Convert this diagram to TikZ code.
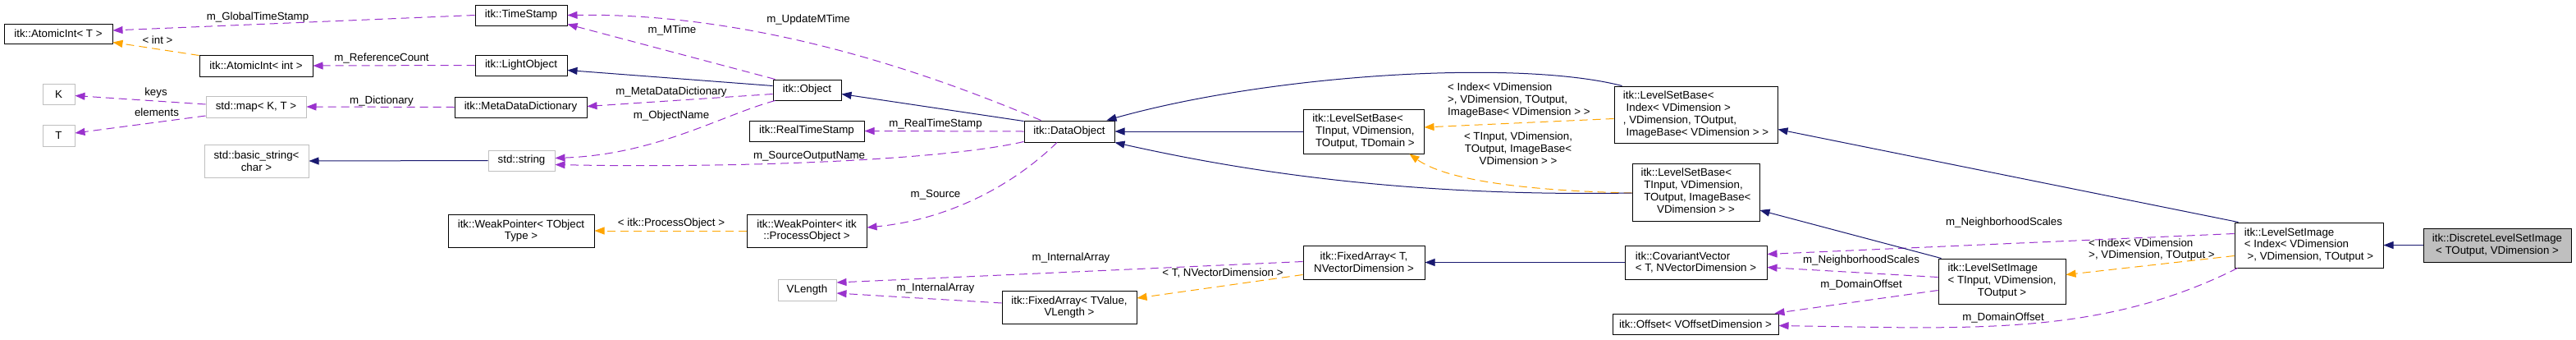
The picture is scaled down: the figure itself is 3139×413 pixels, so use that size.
\documentclass[tikz,border=0pt]{standalone}
\usepackage{fontspec}
\setmainfont{Liberation Sans}
\usetikzlibrary{arrows.meta,calc}
\definecolor{cMem}{HTML}{9A32CD}
\definecolor{cTpl}{HTML}{FFA500}
\definecolor{cInh}{HTML}{191970}
\definecolor{cGray}{HTML}{BFBFBF}
\newcommand{\lastc}[2]{\begin{tabular}{@{}l@{}}#1\\\multicolumn{1}{@{}c@{}}{#2}\end{tabular}}
\begin{document}
\begin{tikzpicture}[x=1pt,y=-1pt,
  every node/.style={font=\fontsize{13.3}{14.8}\selectfont, inner sep=0pt},
  box/.style 2 args={draw=black, line width=1pt, fill=white, minimum width=#1pt, minimum height=#2pt},
  gbox/.style 2 args={draw=cGray, line width=1pt, fill=white, minimum width=#1pt, minimum height=#2pt},
  memb/.style={draw=cMem, line width=1pt, dash pattern=on 10pt off 6pt, -{Triangle[length=12pt,width=9pt,fill=cMem]}},
  tmpl/.style={draw=cTpl, line width=1pt, dash pattern=on 10pt off 6pt, -{Triangle[length=12pt,width=9pt,fill=cTpl]}},
  inher/.style={draw=cInh, line width=1pt, -{Triangle[length=12pt,width=9pt,fill=cInh]}}]
\fill[white] (0,0) rectangle (3139,413);
\useasboundingbox (0,0) rectangle (3139,413);
% nodes
\node[box={132}{24}] (ait) at (71,41) {itk::AtomicInt< T >};
\node[box={138}{26}] (aiint) at (312,80) {itk::AtomicInt< int >};
\node[gbox={39}{25}] (K) at (71.5,114.5) {K};
\node[gbox={39}{26}] (T) at (71.5,165) {T};
\node[gbox={122}{26}] (map) at (312,130) {std::map< K, T >};
\node[gbox={127}{40}, align=center] (bstr) at (312.5,196) {std::basic\_string<\\char >};
\node[box={112}{25}] (ts) at (635,18.5) {itk::TimeStamp};
\node[box={112}{25}] (lo) at (635,79.5) {itk::LightObject};
\node[box={161}{25}] (mdd) at (634.5,130.5) {itk::MetaDataDictionary};
\node[gbox={81}{25}] (str) at (635.5,195.5) {std::string};
\node[box={178}{40}, align=center] (wpT) at (635,281) {itk::WeakPointer< TObject\\Type >};
\node[box={83}{25}] (obj) at (983.5,109.5) {itk::Object};
\node[box={140}{25}] (rts) at (983,159.5) {itk::RealTimeStamp};
\node[box={146}{40}, align=center] (wpPO) at (983,281) {itk::WeakPointer< itk\\::ProcessObject >};
\node[gbox={71}{26}] (vlen) at (983.5,353) {VLength};
\node[box={110}{26}] (dobj) at (1303,160) {itk::DataObject};
\node[box={164}{40}, align=center] (faTV) at (1303,374) {itk::FixedArray< TValue,\\VLength >};
\node[box={148}{41}, align=center] (faT) at (1662,319.5) {itk::FixedArray< T,\\NVectorDimension >};
\node[box={147}{54}, align=left] (lsbTD) at (1661.5,160) {itk::LevelSetBase<\\\ TInput, VDimension,\\\ TOutput, TDomain >};
\node[box={199}{69}, align=left] (lsbIdx) at (2066.5,139.5) {itk::LevelSetBase<\\\ Index< VDimension >\\, VDimension, TOutput,\\\ ImageBase< VDimension > >};
\node[box={155}{70}] (lsbTI) at (2066.5,234) {\lastc{itk::LevelSetBase<\\\ TInput, VDimension,\\\ TOutput, ImageBase<}{VDimension > >}};
\node[box={173}{41}, align=left] (cov) at (2066.5,319.5) {itk::CovariantVector\\< T, NVectorDimension >};
\node[box={202}{25}] (off) at (2066,394.5) {itk::Offset< VOffsetDimension >};
\node[box={155}{55}] (lsiTI) at (2439.5,342.5) {\lastc{itk::LevelSetImage\\< TInput, VDimension,}{TOutput >}};
\node[box={181}{55}, align=left] (lsiIdx) at (2813.5,298.5) {itk::LevelSetImage\\< Index< VDimension\\\ >, VDimension, TOutput >};
\node[box={180}{41}, fill=cGray, align=center] (dlsi) at (3043,298.5) {itk::DiscreteLevelSetImage\\< TOutput, VDimension >};
% labels
\node (l1) at (314,21) {m\_GlobalTimeStamp};
\node (l2) at (465,71) {m\_ReferenceCount};
\node (l3) at (190,113) {keys};
\node (l4) at (191,137) {elements};
\node (l5) at (465,123) {m\_Dictionary};
\node (l6) at (819,37) {m\_MTime};
\node (l7) at (985,24) {m\_UpdateMTime};
\node (l8) at (818,112) {m\_MetaDataDictionary};
\node (l9) at (818,141) {m\_ObjectName};
\node (l10) at (1140,151) {m\_RealTimeStamp};
\node (l11) at (986,190) {m\_SourceOutputName};
\node (l12) at (1140,237) {m\_Source};
\node (l13) at (1305,314) {m\_InternalArray};
\node (l14) at (1140,351) {m\_InternalArray};
\node (l15) at (2442,271) {m\_NeighborhoodScales};
\node (l16) at (2268,317) {m\_NeighborhoodScales};
\node (l17) at (2268,347) {m\_DomainOffset};
\node (l18) at (2441,387) {m\_DomainOffset};
\node (l19) at (192,49) {< int >};
\node (l20) at (818,272) {< itk::ProcessObject >};
\node (l21) at (1490,333) {< T, NVectorDimension >};
\node[anchor=west, align=left] (l22) at (1764,122) {< Index< VDimension\\>, VDimension, TOutput,\\ImageBase< VDimension > >};
\node[align=center] (l23) at (1850,181) {< TInput, VDimension,\\TOutput, ImageBase<\\VDimension > >};
\node[anchor=west, align=left] (l24) at (2545,304) {< Index< VDimension\\>, VDimension, TOutput >};
% member edges
\draw[memb] (ts.west) -- ($(ait.east)+(0,-4)$);
\draw[memb] (lo.west) -- (aiint.east);
\draw[memb] ($(map.west)+(0,-3)$) -- ($(K.east)+(0,2)$);
\draw[memb] ($(map.west)+(0,11)$) -- ($(T.east)+(0,-3)$);
\draw[memb] (mdd.west) -- (map.east);
\draw[memb] ($(obj.north west)+(3,0)$) -- ($(ts.south east)+(0,-2)$);
\draw[memb] ($(dobj.north west)+(21,0)$) .. controls (1180,110) and (950,15) .. (ts.east);
\draw[memb] ($(obj.west)+(0,5)$) -- ($(mdd.east)+(0,-1)$);
\draw[memb] ($(obj.south west)+(3,0)$) .. controls (880,140) and (800,188) .. ($(str.east)+(0,-3)$);
\draw[memb] (dobj.west) -- (rts.east);
\draw[memb] ($(dobj.south west)+(0,-1)$) .. controls (1150,195) and (900,205) .. ($(str.east)+(0,5)$);
\draw[memb] ($(dobj.south)+(-15,0)$) .. controls (1230,230) and (1150,268) .. ($(wpPO.east)+(0,-4)$);
\draw[memb] ($(faT.west)+(0,-1)$) -- ($(vlen.east)+(0,-9)$);
\draw[memb] ($(faTV.west)+(0,-5)$) -- ($(vlen.east)+(0,4)$);
\draw[memb] ($(lsiIdx.west)+(0,-14)$) -- ($(cov.east)+(0,-10)$);
\draw[memb] ($(lsiTI.west)+(0,-5)$) -- ($(cov.east)+(0,6)$);
\draw[memb] ($(lsiTI.west)+(0,11)$) -- ($(off.north east)+(-5,0)$);
\draw[memb] ($(lsiIdx.south west)+(4,0)$) .. controls (2560,410) and (2400,400) .. ($(off.east)+(0,2)$);
% template edges
\draw[tmpl] ($(aiint.north west)+(0,1)$) -- ($(ait.south east)+(0,-2)$);
\draw[tmpl] (wpPO.west) -- (wpT.east);
\draw[tmpl] ($(faT.west)+(0,15)$) -- ($(faTV.east)+(0,-11)$);
\draw[tmpl] ($(lsbIdx.west)+(0,5)$) -- ($(lsbTD.east)+(0,-5)$);
\draw[tmpl] ($(lsbTI.west)+(0,1)$) .. controls (1850,232) and (1760,218) .. ($(lsbTD.south east)+(-18,0)$);
\draw[tmpl] ($(lsiIdx.west)+(0,13)$) -- ($(lsiTI.east)+(0,-8)$);
% inheritance edges
\draw[inher] ($(obj.west)+(0,-5)$) -- ($(lo.east)+(0,6)$);
\draw[inher] (str.west) -- (bstr.east);
\draw[inher] ($(dobj.north west)+(0,1)$) -- ($(obj.east)+(0,5)$);
\draw[inher] (lsbTD.west) -- (dobj.east);
\draw[inher] ($(lsbIdx.north west)+(10,0)$) .. controls (1850,72) and (1550,90) .. ($(dobj.north east)+(-10,0)$);
\draw[inher] ($(lsbTI.west)+(0,1)$) .. controls (1700,240) and (1500,205) .. (dobj.south east);
\draw[inher] ($(lsiTI.north west)+(4,0)$) -- ($(lsbTI.east)+(0,22)$);
\draw[inher] (cov.west) -- (faT.east);
\draw[inher] ($(lsiIdx.north west)+(5,0)$) -- ($(lsbIdx.east)+(0,18)$);
\draw[inher] (dlsi.west) -- (lsiIdx.east);
\end{tikzpicture}
\end{document}
